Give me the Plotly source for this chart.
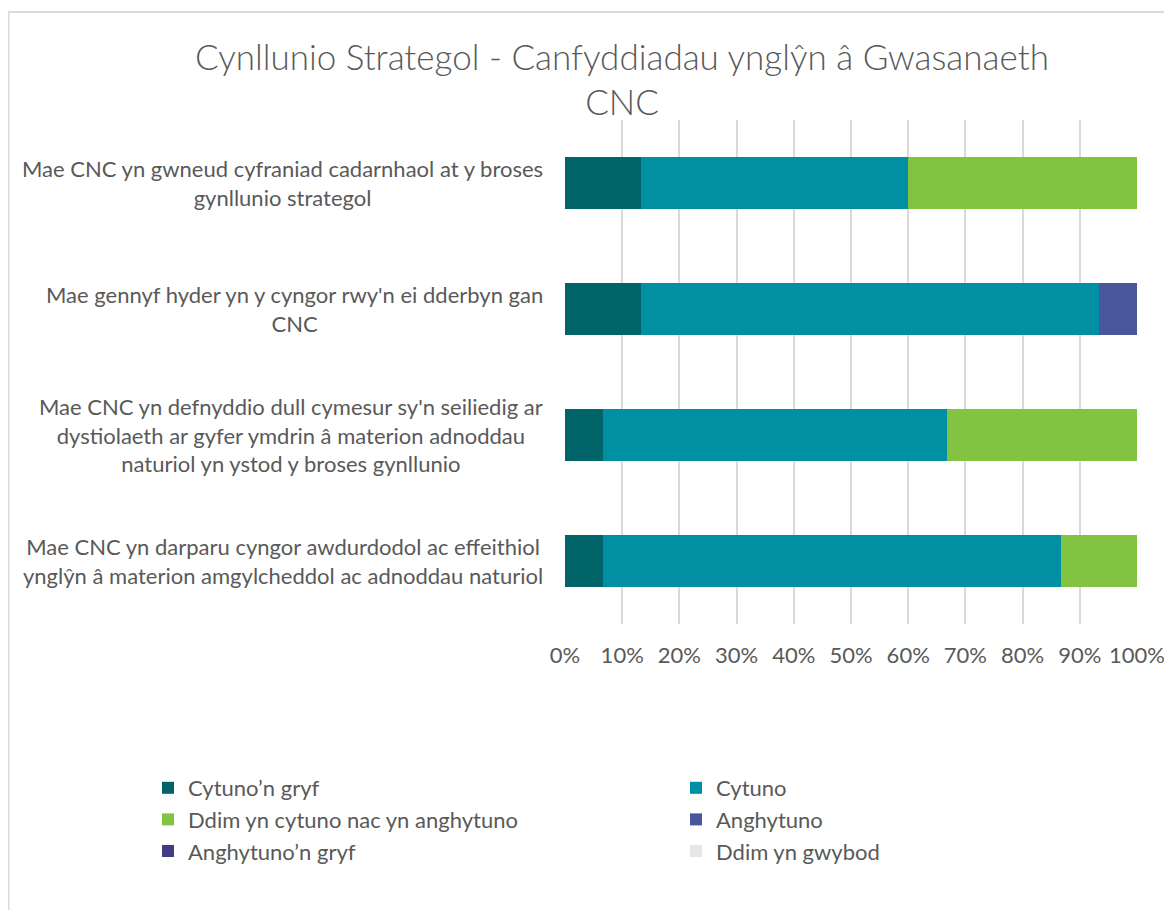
import plotly.graph_objects as go

categories = [
    "Mae CNC yn gwneud cyfraniad cadarnhaol at y broses<br>gynllunio strategol",
    "Mae gennyf hyder yn y cyngor rwy'n ei dderbyn gan<br>CNC",
    "Mae CNC yn defnyddio dull cymesur sy'n seiliedig ar<br>dystiolaeth ar gyfer ymdrin â materion adnoddau<br>naturiol yn ystod y broses gynllunio",
    "Mae CNC yn darparu cyngor awdurdodol ac effeithiol<br>ynglŷn â materion amgylcheddol ac adnoddau naturiol",
]
cat_ids = ["c1", "c2", "c3", "c4"]

series_names = [
    "Cytuno’n gryf",
    "Cytuno",
    "Ddim yn cytuno nac yn anghytuno",
    "Anghytuno",
    "Anghytuno’n gryf",
    "Ddim yn gwybod",
]
cytuno_n_gryf = [0.133, 0.133, 0.067, 0.067]
cytuno = [0.467, 0.800, 0.600, 0.800]
ddim_yn_cytuno = [0.400, 0.000, 0.333, 0.133]
anghytuno = [0.000, 0.067, 0.000, 0.000]
anghytuno_n_gryf = [0.0, 0.0, 0.0, 0.0]
ddim_yn_gwybod = [0.0, 0.0, 0.0, 0.0]
series_values = [cytuno_n_gryf, cytuno, ddim_yn_cytuno, anghytuno, anghytuno_n_gryf, ddim_yn_gwybod]
colors = ["#006469", "#008FA3", "#82C341", "#48579C", "#433C80", "#E6E6E6"]
legend_ids = ["legend", "legend2", "legend", "legend2", "legend", "legend2"]

tick_vals = [i / 10 for i in range(11)]
tick_text = [f"{i*10}%" for i in range(11)]

title_text = "Cynllunio Strategol - Canfyddiadau ynglŷn â Gwasanaeth<br>CNC"

FONT = "Lato"
GREY = "#595959"
OFF = 8  # page body margin

fig = go.Figure()
for name, vals, col, lg in zip(series_names, series_values, colors, legend_ids):
    fig.add_trace(go.Bar(
        y=cat_ids, x=vals, name=name, orientation="h", legend=lg,
        marker=dict(color=col, line=dict(width=0)),
    ))

annotations = []
for cid, label in zip(cat_ids, categories):
    annotations.append(dict(
        text=label, xref="paper", yref="y", x=0, y=cid,
        xanchor="right", yanchor="middle", align="center", xshift=-20,
        showarrow=False, font=dict(family=FONT, size=22, color=GREY),
    ))

W, H = 1172 - OFF, 910 - OFF
L = 565 - OFF
T = 120 - OFF
R = W - (1137 - OFF)
B = H - (624 - OFF)
pw, ph = W - L - R, H - T - B


def px_to_paper_x(px):
    return (px - L) / pw


def px_to_paper_y(py):
    return (H - B - py) / ph


shapes = [
    dict(type="line", xref="paper", yref="paper",
         x0=px_to_paper_x(0), x1=px_to_paper_x(W), y0=px_to_paper_y(4), y1=px_to_paper_y(4),
         line=dict(color="#DADADA", width=2)),
    dict(type="line", xref="paper", yref="paper",
         x0=px_to_paper_x(0.5), x1=px_to_paper_x(0.5), y0=px_to_paper_y(4), y1=px_to_paper_y(H),
         line=dict(color="#DADADA", width=2)),
]

legend_font = dict(family=FONT, size=22, color=GREY)

fig.update_layout(
    width=W, height=H,
    margin=dict(l=L, r=R, t=T, b=B, autoexpand=False),
    paper_bgcolor="white", plot_bgcolor="white",
    barmode="stack", bargap=0.595,
    title=dict(text=title_text, x=(622 - OFF) / W, xanchor="center", xref="container",
               y=1 - (69.5 - OFF) / H, yanchor="middle", yref="container",
               font=dict(family=FONT, size=35, color=GREY, weight=300)),
    xaxis=dict(range=[0, 1], tickvals=tick_vals, ticktext=tick_text,
               showgrid=True, gridcolor="#D9D9D9", gridwidth=2,
               zeroline=False, showline=False, ticks="",
               ticklabelstandoff=16,
               tickfont=dict(family=FONT, size=22, color=GREY)),
    yaxis=dict(autorange="reversed", showticklabels=False, showgrid=False,
               zeroline=False, showline=False),
    legend=dict(orientation="h", xref="container", yref="container",
                x=(148 - OFF) / W, y=1 - (767 - OFF) / H, xanchor="left", yanchor="top",
                entrywidth=340, traceorder="normal", font=legend_font,
                bgcolor="rgba(0,0,0,0)"),
    legend2=dict(orientation="h", xref="container", yref="container",
                 x=(676 - OFF) / W, y=1 - (767 - OFF) / H, xanchor="left", yanchor="top",
                 entrywidth=340, traceorder="normal", font=legend_font,
                 bgcolor="rgba(0,0,0,0)"),
    annotations=annotations,
    shapes=shapes,
    font=dict(family=FONT, color=GREY),
)

fig.write_html("out.html")
